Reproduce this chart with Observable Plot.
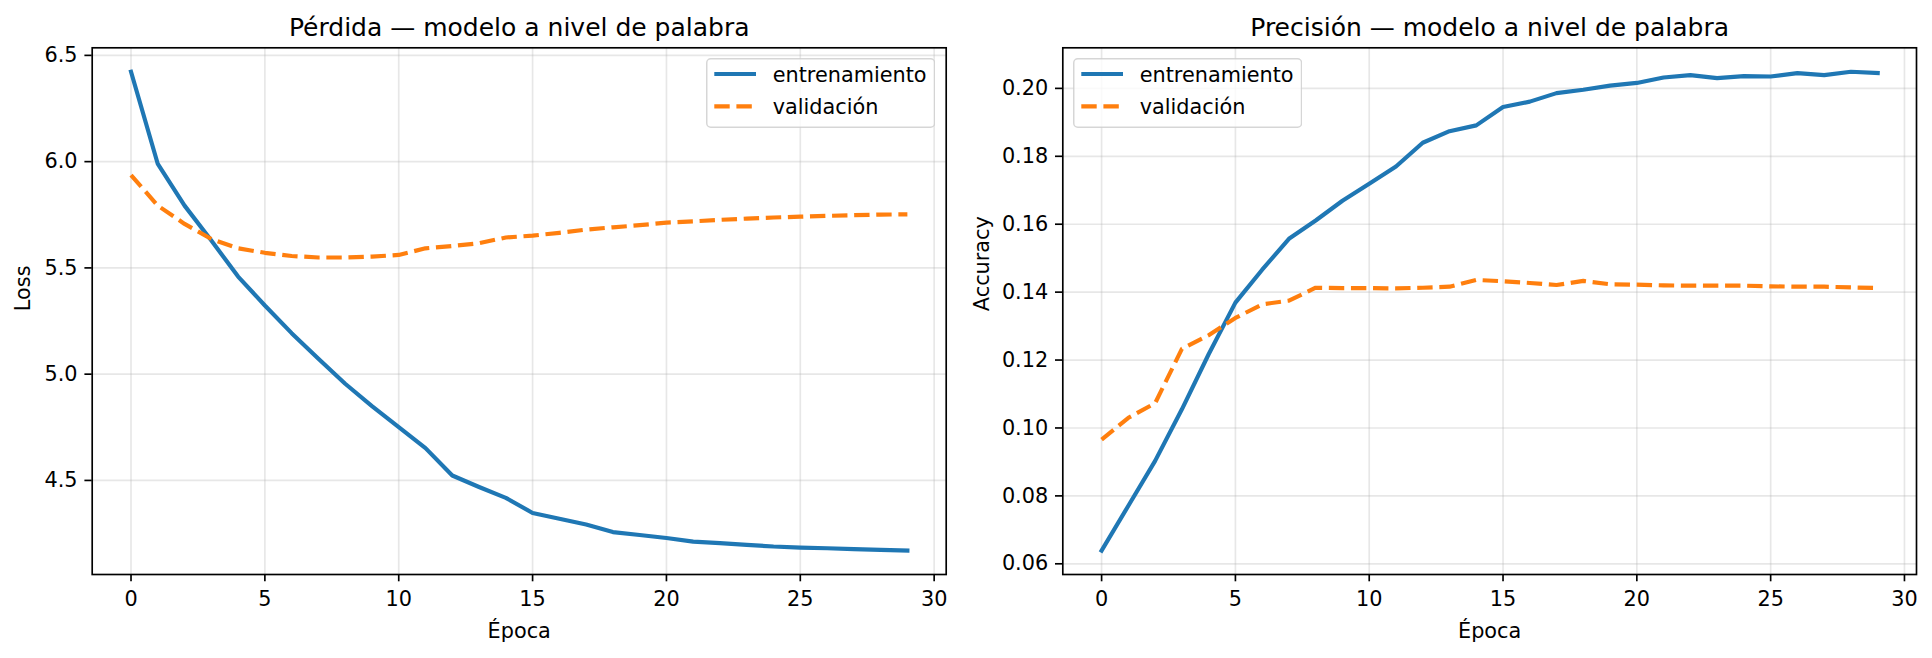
<!DOCTYPE html>
<html>
<head>
<meta charset="utf-8">
<script src="https://cdn.jsdelivr.net/npm/d3@7"></script>
<script src="https://cdn.jsdelivr.net/npm/@observablehq/plot@0.6"></script>
<style>
  html, body { margin: 0; padding: 0; background: #fff; overflow: hidden; }
  #fig { position: relative; width: 1932px; height: 658px; font-family: "DejaVu Sans", sans-serif; }
  #fig > div.panel { position: absolute; top: 0; }
  .legend { position: absolute; }
</style>
</head>
<body>
<div id="fig"></div>
<script>
// ---- data ----
const epochs = [0,1,2,3,4,5,6,7,8,9,10,11,12,13,14,15,16,17,18,19,20,21,22,23,24,25,26,27,28,29];
const seriesNames = ["entrenamiento", "validación"];
const lossTrain = [6.423,5.989,5.793,5.629,5.459,5.323,5.193,5.072,4.955,4.850,4.751,4.652,4.523,4.469,4.418,4.347,4.320,4.293,4.257,4.243,4.229,4.212,4.205,4.197,4.189,4.184,4.181,4.177,4.173,4.170];
const lossVal = [5.937,5.793,5.707,5.636,5.592,5.571,5.556,5.549,5.549,5.553,5.561,5.592,5.603,5.616,5.643,5.652,5.665,5.680,5.691,5.701,5.713,5.719,5.726,5.732,5.737,5.741,5.745,5.748,5.751,5.752];
const accTrain = [0.0639,0.0771,0.0903,0.1055,0.1217,0.1369,0.1466,0.1557,0.1611,0.1669,0.1719,0.1770,0.1840,0.1874,0.1891,0.1945,0.1961,0.1986,0.1996,0.2008,0.2016,0.2032,0.2039,0.2030,0.2036,0.2035,0.2045,0.2039,0.2049,0.2045];
const accVal = [0.0966,0.1030,0.1073,0.1233,0.1273,0.1324,0.1364,0.1375,0.1413,0.1412,0.1412,0.1411,0.1413,0.1416,0.1436,0.1432,0.1427,0.1421,0.1433,0.1423,0.1422,0.1420,0.1419,0.1419,0.1419,0.1417,0.1416,0.1416,0.1414,0.1412];
const xTicks = [0,5,10,15,20,25,30];
const lossTicks = [4.5,5.0,5.5,6.0,6.5];
const accTicks = [0.06,0.08,0.10,0.12,0.14,0.16,0.18,0.20];
const titles = ["Pérdida — modelo a nivel de palabra", "Precisión — modelo a nivel de palabra"];
const xLabel = "Época";
const yLabels = ["Loss", "Accuracy"];

// ---- style ----
const C_TRAIN = "#1f77b4", C_VAL = "#ff7f0e";
const FS = 20.8, FS_TITLE = 25;
const LW = 4.17, SPINE = 1.67;
const DASH = "15.4,6.7";

function autoDomain(arrs) {
  const all = arrs.flat();
  const lo = d3.min(all), hi = d3.max(all), r = hi - lo;
  return [lo - 0.05 * r, hi + 0.05 * r];
}

function panel({train, val, yTicks, yFmt, title, yLabel, marginLeft, marginRight, yLabelDx}) {
  const tr = epochs.map((e, i) => ({x: e, y: train[i]}));
  const va = epochs.map((e, i) => ({x: e, y: val[i]}));
  return Plot.plot({
    width: 966, height: 658,
    marginLeft, marginRight, marginTop: 47.3, marginBottom: 84,
    x: {domain: [-1.45, 30.45]},
    y: {domain: autoDomain([train, val])},
    style: {fontFamily: "DejaVu Sans, sans-serif", fontSize: FS + "px", color: "black", background: "white", overflow: "visible"},
    marks: [
      Plot.gridX(xTicks, {stroke: "#b0b0b0", strokeOpacity: 0.3, strokeWidth: SPINE}),
      Plot.gridY(yTicks, {stroke: "#b0b0b0", strokeOpacity: 0.3, strokeWidth: SPINE}),
      Plot.line(tr, {x: "x", y: "y", stroke: C_TRAIN, strokeWidth: LW, strokeLinejoin: "round", strokeLinecap: "square"}),
      Plot.line(va, {x: "x", y: "y", stroke: C_VAL, strokeWidth: LW, strokeDasharray: DASH, strokeLinejoin: "round", strokeLinecap: "butt"}),
      Plot.frame({stroke: "black", strokeWidth: SPINE}),
      Plot.axisX(xTicks, {tickSize: 7.3, tickPadding: 9.4, strokeWidth: SPINE, fontSize: FS, label: null, tickFormat: d => String(d), stroke: "black", fill: "black"}),
      Plot.axisY(yTicks, {tickSize: 7.3, tickPadding: 7.3, strokeWidth: SPINE, fontSize: FS, label: null, tickFormat: yFmt, stroke: "black", fill: "black"}),
      Plot.text([title], {text: d => d, frameAnchor: "top", lineAnchor: "bottom", dy: -12.3, fontSize: FS_TITLE, fill: "black"}),
      Plot.text([xLabel], {text: d => d, frameAnchor: "bottom", lineAnchor: "middle", dy: 57, fontSize: FS, fill: "black"}),
      Plot.text([yLabel], {text: d => d, frameAnchor: "left", lineAnchor: "middle", rotate: -90, dx: yLabelDx, fontSize: FS, fill: "black"})
    ]
  });
}

function legend(left, top) {
  const ns = "http://www.w3.org/2000/svg";
  const w = 229.3, h = 70;
  const svg = document.createElementNS(ns, "svg");
  svg.setAttribute("width", w); svg.setAttribute("height", h);
  svg.setAttribute("class", "legend");
  svg.style.left = left + "px"; svg.style.top = top + "px";
  const rect = document.createElementNS(ns, "rect");
  rect.setAttribute("x", 0.75); rect.setAttribute("y", 0.75);
  rect.setAttribute("width", w - 1.5); rect.setAttribute("height", h - 1.5);
  rect.setAttribute("rx", 4); rect.setAttribute("fill", "white"); rect.setAttribute("fill-opacity", 0.8);
  rect.setAttribute("stroke", "#cccccc"); rect.setAttribute("stroke-opacity", 0.8); rect.setAttribute("stroke-width", 1.5);
  svg.appendChild(rect);
  const rows = [16, 48.4];
  seriesNames.forEach((name, i) => {
    const ln = document.createElementNS(ns, "line");
    ln.setAttribute("x1", 8.3); ln.setAttribute("x2", 50);
    ln.setAttribute("y1", rows[i]); ln.setAttribute("y2", rows[i]);
    ln.setAttribute("stroke", i === 0 ? C_TRAIN : C_VAL);
    ln.setAttribute("stroke-width", LW);
    if (i === 1) ln.setAttribute("stroke-dasharray", DASH);
    svg.appendChild(ln);
    const t = document.createElementNS(ns, "text");
    t.setAttribute("x", 66.7); t.setAttribute("y", rows[i] + 7.9);
    t.setAttribute("font-family", "DejaVu Sans, sans-serif");
    t.setAttribute("font-size", FS); t.setAttribute("fill", "black");
    t.textContent = name;
    svg.appendChild(t);
  });
  return svg;
}

const fig = document.getElementById("fig");
const p1 = document.createElement("div"); p1.className = "panel"; p1.style.left = "0px";
p1.appendChild(panel({train: lossTrain, val: lossVal, yTicks: lossTicks, yFmt: d3.format(".1f"),
  title: titles[0], yLabel: yLabels[0], marginLeft: 91.7, marginRight: 20.3, yLabelDx: -68.7}));
const p2 = document.createElement("div"); p2.className = "panel"; p2.style.left = "966px";
p2.appendChild(panel({train: accTrain, val: accVal, yTicks: accTicks, yFmt: d3.format(".2f"),
  title: titles[1], yLabel: yLabels[1], marginLeft: 96.3, marginRight: 16, yLabelDx: -80.3}));
fig.appendChild(p1); fig.appendChild(p2);
fig.appendChild(legend(706, 58.3));
fig.appendChild(legend(1072.7, 58.3));
</script>
</body>
</html>
